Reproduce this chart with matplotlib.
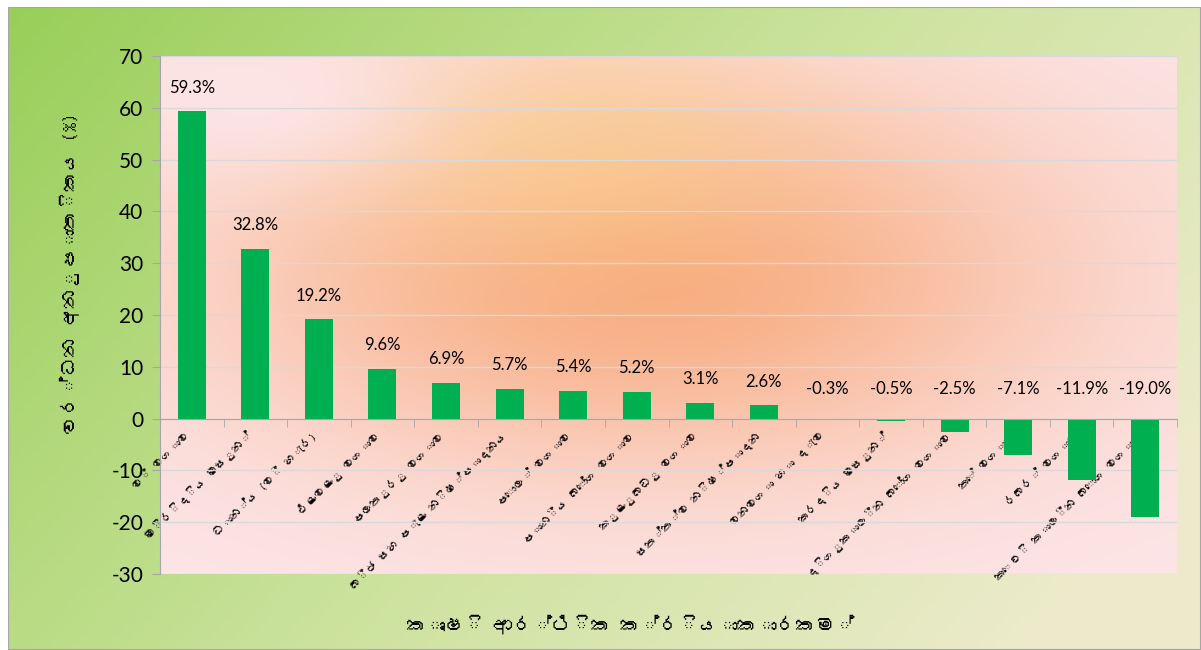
import numpy as np
import matplotlib
matplotlib.use('Agg')
import matplotlib.pyplot as plt
from matplotlib import font_manager
from matplotlib.patches import Rectangle

# data
categories = ['වී වගාව', 'මිරිදිය මසුන්', 'ධාන්ය (වී හැර)', 'එළවළු වගාව',
              'පලතුරු වගාව', 'බීජ සහ පැළ නිෂ්පාදනය', 'පොල් වගාව', 'පානීය බෝග වගාව',
              'කුළුබඩු වගාව', 'සත්ත්ව නිෂ්පාදන', 'වනවගා හා දැව', 'කරදිය මසුන්',
              'දිගුකාලීන බෝග වගාව', 'තේ වගාව', 'රබර් වගාව', 'කෙටි කාලීන බෝග වගාව']
growth = [59.3, 32.8, 19.2, 9.6, 6.9, 5.7, 5.4, 5.2, 3.1, 2.6,
          -0.3, -0.5, -2.5, -7.1, -11.9, -19.0]
y_ticks = list(range(-30, 71, 10))
y_title = 'වර්ධන අනුපාතිකය (%)'
x_title = 'කෘෂි ආර්ථික ක්රියාකාරකම්'


def find_sinhala_font():
    try:
        from fontTools.ttLib import TTFont
    except Exception:
        return None
    for f in font_manager.findSystemFonts():
        try:
            tt = TTFont(f, fontNumber=0, lazy=True)
            cmap = tt.getBestCmap()
            if cmap and 0x0DC0 in cmap:
                font_manager.fontManager.addfont(f)
                return font_manager.FontProperties(fname=f).get_name()
        except Exception:
            pass
    return None


sin_font = find_sinhala_font()
fam = ([sin_font] if sin_font else []) + ['Lato', 'DejaVu Sans']
plt.rcParams['font.family'] = fam

W, H = 1201, 650
fig = plt.figure(figsize=(W / 100, H / 100), dpi=100)
fig.patch.set_facecolor('white')

# outer gradient background
bg = fig.add_axes([8 / W, 0, 1 - 8 / W, 1 - 7 / H])
gx, gy = np.meshgrid(np.linspace(0, 1, 300), np.linspace(0, 1, 200))
t = np.clip(0.75 * gx + 0.35 * gy, 0, 1)
c0 = np.array([0.60, 0.81, 0.35])
c1 = np.array([0.80, 0.89, 0.62])
c2 = np.array([0.93, 0.92, 0.80])
img = np.where(t[..., None] < 0.55,
               c0 + (c1 - c0) * (t[..., None] / 0.55),
               c1 + (c2 - c1) * ((t[..., None] - 0.55) / 0.45))
bg.imshow(img, extent=[0, 1, 0, 1], aspect='auto', origin='upper')
bg.add_patch(Rectangle((0, 0), 1, 1, transform=bg.transAxes, fill=False,
                       edgecolor='#A6A6A6', linewidth=1.5))
bg.set_xlim(0, 1)
bg.set_ylim(0, 1)
bg.axis('off')

# plot area
x0, x1, ytop, ybot = 160, 1177, 56, 574
ax = fig.add_axes([x0 / W, 1 - ybot / H, (x1 - x0) / W, (ybot - ytop) / H])

# plot area gradient
px, py = np.meshgrid(np.linspace(0, 1, 300), np.linspace(1, 0, 200))
pink = np.array([0.99, 0.90, 0.91])
orange = np.array([0.97, 0.66, 0.48])
yellow = np.array([0.98, 0.82, 0.55])
w_or = 0.95 * np.exp(-((px - 0.48) / 0.42) ** 2 - ((py - 0.58) / 0.38) ** 2)
w_ye = 0.6 * np.exp(-((px - 0.40) / 0.22) ** 2 - ((py - 0.82) / 0.22) ** 2)
pimg = pink * (1 - w_or[..., None]) + orange * w_or[..., None]
pimg = pimg * (1 - w_ye[..., None]) + yellow * w_ye[..., None]
w_wh = 0.9 * np.exp(-((px - 0.10) / 0.16) ** 2 - ((py - 0.92) / 0.16) ** 2)
pimg = pimg * (1 - w_wh[..., None]) + pink * w_wh[..., None]
ax.imshow(np.clip(pimg, 0, 1), extent=[-0.5, 15.5, -30, 70], aspect='auto',
          origin='upper', zorder=0)

x = np.arange(len(categories))
ax.bar(x, growth, width=0.44, color='#00B050', zorder=3)

for s in ['top', 'right']:
    ax.spines[s].set_visible(False)
ax.spines['bottom'].set_position(('data', 0))
ax.spines['bottom'].set_color('#A6A6A6')
ax.spines['left'].set_color('#A6A6A6')
ax.spines['bottom'].set_zorder(4)

ax.set_xlim(-0.5, 15.5)
ax.set_ylim(-30, 70)
ax.set_yticks(y_ticks)
ax.set_yticklabels([str(v) for v in y_ticks], fontsize=15, family='Lato')
ax.yaxis.grid(True, color='#D9D9D9', linewidth=1, zorder=1)
ax.set_axisbelow(True)

ax.set_xticks(x)
ax.set_xticklabels(categories, rotation=45, ha='right', rotation_mode='default',
                   fontsize=8.5)
ax.set_xticks(np.arange(-0.5, 16, 1), minor=True)
ax.tick_params(axis='x', which='major', length=0, pad=8)
ax.tick_params(axis='x', which='minor', length=6, color='#A6A6A6', direction='out')
ax.tick_params(axis='y', length=6, color='#A6A6A6', direction='out', pad=6)

for i, v in enumerate(growth):
    if v >= 0:
        ax.annotate(f'{v:.1f}%', xy=(i, v), xytext=(0, 17), textcoords='offset points',
                    ha='center', va='center', fontsize=12, family='Lato')
    else:
        ax.annotate(f'{v:.1f}%', xy=(i, 0), xytext=(0, 21), textcoords='offset points',
                    ha='center', va='center', fontsize=12, family='Lato')

fig.text(70 / W, 1 - 273 / H, y_title, rotation=90, ha='center', va='center',
         fontsize=14, fontweight='bold')
fig.text(630 / W, 1 - 624 / H, x_title, ha='center', va='center',
         fontsize=14, fontweight='bold')

fig.savefig('out.png', dpi=100)
